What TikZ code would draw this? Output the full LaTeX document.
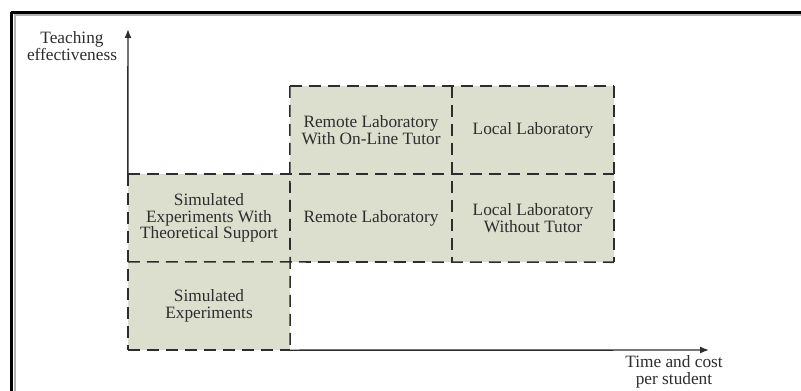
\documentclass[tikz,border=0pt]{standalone}
\usepackage{fontspec}
\setmainfont{Liberation Serif}
\usetikzlibrary{arrows.meta}
\definecolor{cellfill}{RGB}{220,223,206}
\definecolor{ink}{RGB}{45,45,45}
\tikzset{
  cell/.style={fill=cellfill, minimum width=162pt, minimum height=88pt, inner sep=0pt,
    align=center, text=ink, font=\fontsize{17.3}{16.4}\selectfont},
  grid/.style={draw=ink, line width=1.6pt, dash pattern=on 12pt off 7pt},
  axislabel/.style={align=center, text=ink, inner sep=0pt, font=\fontsize{17.3}{16.4}\selectfont},
  axis/.style={draw=ink, line width=1.4pt, -{Latex[length=9pt,width=7pt]}}
}
\begin{document}
\begin{tikzpicture}[x=1pt,y=-1pt]
\useasboundingbox (0,0) rectangle (801,391);
\fill[white] (0,0) rectangle (801,391);
% frame (top and left only visible)
\draw[black, line width=3pt] (11,12) -- (801,12);
\draw[black, line width=3pt] (11,12) -- (11,391);
\draw[gray!60, line width=2pt] (13.5,15) -- (801,15);
\draw[gray!60, line width=2pt] (14.5,14) -- (14.5,391);
% cells
\node[cell] (rlt) at (371,130) {Remote Laboratory\\With On-Line Tutor};
\node[cell] (ll)  at (533,130) {Local Laboratory};
\node[cell] (set) at (209,218) {Simulated\\Experiments With\\Theoretical Support};
\node[cell] (rl)  at (371,218) {Remote Laboratory};
\node[cell] (llw) at (533,218) {Local Laboratory\\Without Tutor};
\node[cell] (se)  at (209,306) {Simulated\\Experiments};
% dashed cell borders (drawn once per shared edge)
\draw[grid] (rlt.north west) -- (ll.north east);
\draw[grid] (set.north west) -- (llw.north east);
\draw[grid] (se.north west) -- (llw.south east);
\draw[grid] (se.south west) -- (se.south east);
\draw[grid] (set.north west) -- (se.south west);
\draw[grid] (rlt.north west) -- (se.south east);
\draw[grid] (ll.north west) -- (llw.south west);
\draw[grid] (ll.north east) -- (llw.south east);
% axes
\coordinate (ytip) at (128,29);
\coordinate (xtip) at (709,350);
\draw[axis] (set.north west) -- (ytip);
\draw[axis] (se.south east) -- (xtip);
% axis labels
\node[axislabel] (ylab) at (72,46) {Teaching\\effectiveness};
\node[axislabel] (xlab) at (674,372) {Time and cost\\per student};
\end{tikzpicture}
\end{document}
